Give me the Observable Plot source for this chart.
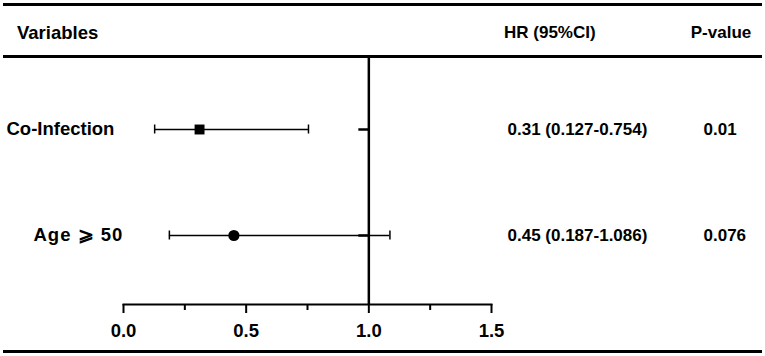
<!DOCTYPE html>
<html>
<head>
<meta charset="utf-8">
<script src="https://cdn.jsdelivr.net/npm/d3@7"></script>
<script src="https://cdn.jsdelivr.net/npm/@observablehq/plot@0.6"></script>
<style>
  html, body { margin: 0; padding: 0; background: white; }
  #wrap { position: relative; width: 765px; height: 356px; overflow: hidden; background: white;
          font-family: "Liberation Sans", Arial, sans-serif; font-weight: bold; font-size: 17px; color: black; }
  .hline { position: absolute; left: 3px; width: 759px; background: black; z-index: 2; }
  .head { position: absolute; line-height: 20px; top: 23px; white-space: nowrap; z-index: 2; }
  #chart { position: absolute; left: 0; top: 0; z-index: 1; }
  .spaced, .spaced text { letter-spacing: 1px; }
</style>
</head>
<body>
<div id="wrap">
  <div class="hline" style="top:2.5px;height:3px"></div>
  <div class="head" id="h0" style="left:17px;font-size:18.5px"></div>
  <div class="head" id="h1" style="left:504px"></div>
  <div class="head" id="h2" style="left:681px;width:80px;text-align:center"></div>
  <div class="hline" style="top:55px;height:3px"></div>
  <div id="chart"></div>
  <div class="hline" style="top:349.5px;height:3.5px"></div>
</div>
<script>
// ---- data ----
const headers = ["Variables", "HR (95%CI)", "P-value"];
const variables = ["Co-Infection", "Age \u2A7E 50"];
const hr = [0.31, 0.45];
const lower = [0.127, 0.187];
const upper = [0.754, 1.086];
const pValues = ["0.01", "0.076"];
const markers = ["square", "circle"];
const xTicks = [0, 0.5, 1.0, 1.5];
const minorTicks = [0.25, 0.75, 1.25];
const refLine = [1];

headers.forEach((h, i) => document.getElementById("h" + i).textContent = h);

const rows = variables.map((v, i) => ({
  name: v, hr: hr[i], lo: lower[i], hi: upper[i], p: pValues[i], shape: markers[i],
  hrText: `${hr[i]} (${lower[i]}-${upper[i]})`, idx: i, one: refLine[0]
}));

const chart = Plot.plot({
  width: 765,
  height: 356,
  marginLeft: 123,
  marginRight: 274,
  marginTop: 57,
  marginBottom: 52,
  style: { background: "transparent", fontFamily: "Liberation Sans, Arial, sans-serif", fontSize: "17px", fontWeight: "bold", color: "black" },
  x: { type: "linear", domain: [0, 1.5] },
  y: { type: "point", domain: variables, range: [129, 235], padding: 0, axis: null },
  marks: [
    Plot.frame({ anchor: "bottom", stroke: "black", strokeWidth: 2 }),
    Plot.ruleX(refLine, { stroke: "black", strokeWidth: 2.5 }),
    Plot.axisX({ ticks: xTicks, tickFormat: d3.format(".1f"), tickSize: 9, tickPadding: 10, strokeWidth: 2, stroke: "black", fill: "black", fontSize: 18.5, fontWeight: "bold" }),
    Plot.axisX({ ticks: minorTicks, tickFormat: () => "", tickSize: 6, strokeWidth: 2, stroke: "black" }),
    Plot.ruleY(rows, { y: "name", x1: "one", x2: "one", insetLeft: -10, stroke: "black", strokeWidth: 2.5 }),
    Plot.ruleY(rows, { y: "name", x1: "lo", x2: "hi", stroke: "black", strokeWidth: 1.5 }),
    Plot.ruleX(rows, { x: "lo", y1: "name", y2: "name", insetTop: -4.5, insetBottom: -4.5, stroke: "black", strokeWidth: 1.5 }),
    Plot.ruleX(rows, { x: "hi", y1: "name", y2: "name", insetTop: -4.5, insetBottom: -4.5, stroke: "black", strokeWidth: 1.5 }),
    Plot.dot(rows, { x: "hr", y: "name", symbol: "shape", r: 5.6, fill: "black", stroke: null }),
    Plot.text(rows.filter(d => d.idx === 0), { y: "name", text: "name", frameAnchor: "left", textAnchor: "start", dx: -117, fill: "black", fontSize: 18.5 }),
    Plot.text(rows.filter(d => d.idx === 1), { y: "name", text: "name", frameAnchor: "left", textAnchor: "start", dx: -90, fill: "black", fontSize: 18.5, className: "spaced" }),
    Plot.text(rows, { y: "name", text: "hrText", frameAnchor: "right", textAnchor: "start", dx: 16, fill: "black" }),
    Plot.text(rows, { y: "name", text: "p", frameAnchor: "right", textAnchor: "start", dx: 212, fill: "black" })
  ]
});
document.getElementById("chart").appendChild(chart);
</script>
</body>
</html>
